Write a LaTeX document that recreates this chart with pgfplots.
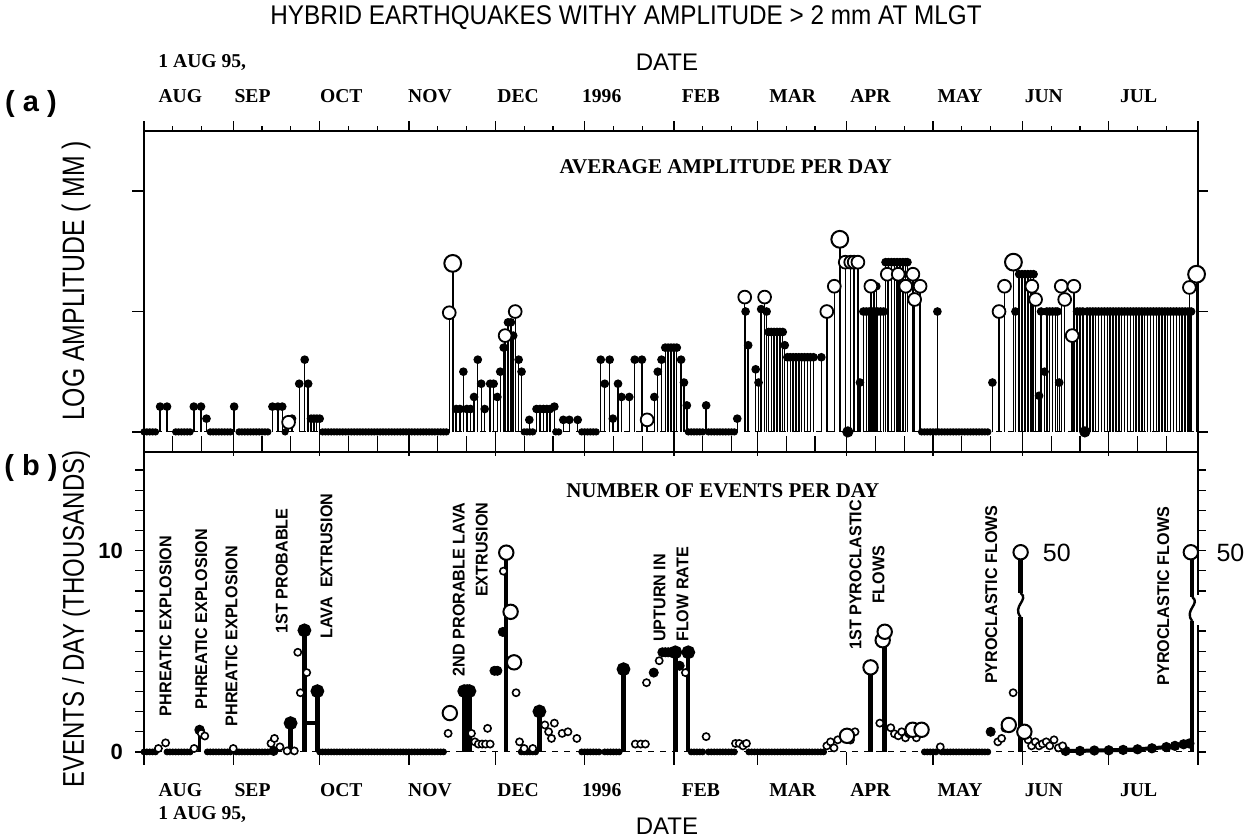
\documentclass[border=0pt]{standalone}
\usepackage{pgfplots}
\pgfplotsset{compat=1.18}
\usepackage{fontspec}
\setmainfont{Liberation Serif}
\newfontfamily\hsans{Liberation Sans}
\newfontfamily\tsans[FakeStretch=0.9]{Liberation Sans}
\newfontfamily\csans[FakeStretch=0.8]{Liberation Sans}
\newfontfamily\asans[FakeStretch=0.95]{Liberation Sans}
\newcommand\ann{\asans\bfseries\fontsize{8.5}{11.5}\selectfont}
\newcommand\mon{\bfseries\fontsize{9.8}{10}\selectfont}

\begin{document}
\begin{tikzpicture}[x=1pt,y=1pt]
\useasboundingbox (0,0) rectangle (625.5,419.5);

% title and outer labels
\node[font=\tsans\fontsize{13.5}{14}\selectfont] at (313,410.5) {HYBRID EARTHQUAKES WITHY AMPLITUDE > 2 mm AT MLGT};
\node[anchor=west, inner sep=0, font=\mon] at (79,388) {1 AUG 95,};
\node[font=\hsans\fontsize{12}{13}\selectfont] at (333.5,388.5) {DATE};
\node[anchor=west, inner sep=0, font=\mon] at (79,12) {1 AUG 95,};
\node[font=\hsans\fontsize{12}{13}\selectfont] at (333.5,6.5) {DATE};
\node[font=\hsans\bfseries\fontsize{14.5}{15}\selectfont] at (15.5,367.5) {( a )};
\node[font=\hsans\bfseries\fontsize{14.5}{15}\selectfont] at (15.5,185.5) {( b )};
\node[rotate=90, font=\csans\fontsize{15.5}{16}\selectfont] at (38,279) {LOG AMPLITUDE ( MM )};
\node[rotate=90, font=\csans\fontsize{15}{16}\selectfont] at (38,110) {EVENTS / DAY (THOUSANDS)};

% ---------------- (a) average amplitude ----------------
\begin{axis}[
  at={(72pt,193.5pt)}, anchor=south west,
  width=527pt, height=160.5pt, scale only axis,
  xmin=0, xmax=366, ymin=-0.167, ymax=2.5,
  hide axis, clip=false,
]
\addplot[black, dashed, line width=0.5pt] coordinates {(0,0)(366,0)};

% zero days
\addplot[only marks, mark=*, mark size=1.6pt, black] coordinates {
(0,0)(1,0)(2,0)(3,0)(4,0)(11,0)(12,0)(13,0)(14,0)(15,0)(16,0)
(23,0)(24,0)(25,0)(26,0)(27,0)(28,0)(29,0)(30,0)
(33,0)(34,0)(35,0)(36,0)(37,0)(38,0)(39,0)(40,0)(41,0)(42,0)(43,0)(49,0)
(62,0)(63,0)(64,0)(65,0)(66,0)(67,0)(68,0)(69,0)(70,0)(71,0)(72,0)(73,0)(74,0)(75,0)
(76,0)(77,0)(78,0)(79,0)(80,0)(81,0)(82,0)(83,0)(84,0)(85,0)(86,0)(87,0)(88,0)(89,0)
(90,0)(91,0)(92,0)(93,0)(94,0)(95,0)(96,0)(97,0)(98,0)(99,0)(100,0)(101,0)(102,0)(103,0)(104,0)(105,0)
(132,0)(133,0)(134,0)(135,0)(143,0)(144,0)
(152,0)(153,0)(154,0)(155,0)(156,0)(157,0)
(189,0)(190,0)(191,0)(192,0)(193,0)(194,0)(196,0)(197,0)(198,0)(199,0)(200,0)(201,0)(202,0)(203,0)(204,0)(205,0)
(270,0)(271,0)(272,0)(273,0)(274,0)(275,0)(276,0)(277,0)(278,0)(279,0)(280,0)(281,0)
(282,0)(283,0)(284,0)(285,0)(286,0)(287,0)(288,0)(289,0)(290,0)(291,0)(292,0)(293,0)
};
\addplot[only marks, mark=*, mark size=2.6pt, black] coordinates {(244.4,0)(326.7,0)};

% filled stems
\addplot[ycomb, black, line width=0.7pt, mark=*, mark size=1.8pt] coordinates {
(5.6,0.21)(8,0.21)(17.3,0.21)(19.8,0.21)(21.7,0.11)(31.3,0.21)(44.6,0.21)(46.5,0.21)(48,0.21)
(51.4,0.11)(53.9,0.4)(55.8,0.6)(57,0.4)(58,0.11)(59,0.11)(60,0.11)(61,0.11)
(108.4,0.19)(109.7,0.19)(110.9,0.5)(112.1,0.19)(113.4,0.19)(114.6,0.29)(115.9,0.6)(117.1,0.4)
(118.3,0.19)(120.2,0.4)(121.4,0.4)(122.7,0.29)(123.7,0.5)(124.9,0.7)(126.4,0.91)(127.4,0.91)
(128.2,0.8)(130.1,0.6)(131.1,0.5)
(133.8,0.1)(136.3,0.19)(137.5,0.19)(138.7,0.19)(139.9,0.19)(141,0.19)(142.5,0.21)
(145.6,0.1)(147.7,0.1)(150.6,0.1)
(158.6,0.6)(160,0.4)(161.7,0.6)(162.8,0.11)(164.6,0.4)(165.8,0.29)(168.5,0.29)(170.4,0.6)
(172.9,0.6)(177.2,0.29)(178.4,0.5)(179.7,0.6)(181,0.7)(182,0.7)(183,0.7)(184,0.7)(185,0.7)
(186.5,0.6)(187.5,0.41)(188.5,0.22)
(195.2,0.22)(206,0.11)(208.9,1.0)(209.8,0.72)(212.4,0.52)(213.4,0.41)(214.3,1.02)(216.2,1.0)
(216.9,0.83)(217.8,0.83)(218.8,0.83)(219.8,0.83)(220.8,0.83)(221.8,0.83)(222.5,0.72)
(223.4,0.62)(224.4,0.62)(225.4,0.62)(226.4,0.62)(227.4,0.62)(228.4,0.62)(229.4,0.62)
(230.4,0.62)(231.4,0.62)(232.5,0.62)(235.2,0.62)
(248.6,0.41)(249.8,1.0)(250.8,1.0)(251.8,1.0)(252.8,1.0)(253.8,1.0)(254.8,1.0)(255.8,1.0)
(256.8,1.0)(253.5,1.21)(254.3,1.21)
(257.5,1.41)(258.5,1.41)(259.5,1.41)(260.5,1.41)(261.5,1.41)(262.5,1.41)(263.5,1.41)
(264.5,1.41)(265.1,1.41)(275.5,1.0)
(294.6,0.41)(302.6,1.0)(303.9,1.31)(304.9,1.31)(305.9,1.31)(306.9,1.31)(307.9,1.31)
(308.9,1.31)(310.8,0.3)(311.5,1.0)(312.7,0.5)(313.5,1.0)(314.5,1.0)(315.5,1.0)(316.5,1.0)
(317.2,1.0)(317.8,0.41)
(324,1.0)(325,1.0)(326,1.0)(327.5,1.0)(328.5,1.0)(329.5,1.0)(330.5,1.0)(331.5,1.0)(332.5,1.0)
(333.5,1.0)(334.5,1.0)(335.5,1.0)(336.5,1.0)(337.5,1.0)(338.5,1.0)(339.5,1.0)(340.5,1.0)
(341.5,1.0)(342.5,1.0)(343.5,1.0)(344.5,1.0)(345.5,1.0)(346.5,1.0)(347.5,1.0)(348.5,1.0)
(349.5,1.0)(350.5,1.0)(351.5,1.0)(352.5,1.0)(353.5,1.0)(354.5,1.0)(355.5,1.0)(356.5,1.0)
(357.5,1.0)(358.5,1.0)(359.5,1.0)(360.5,1.0)(361.5,1.0)(362.5,1.0)(363.6,1.0)
};

% open circles
\addplot[ycomb, black, line width=0.7pt, mark=*, mark size=3.2pt,
  mark options={fill=white, line width=0.9pt}] coordinates {
(50.2,0.08)(106,0.99)(125.4,0.8)(128.9,1.0)(174.7,0.1)(208.6,1.12)(215.5,1.12)
(237.1,1.0)(239.7,1.21)(243.5,1.41)(245.4,1.41)(246.6,1.41)(247.9,1.41)(252.4,1.21)
(258.1,1.31)(261.9,1.31)(264.5,1.21)(267,1.31)(267.6,1.1)(269.5,1.21)
(296.9,1.0)(298.8,1.21)(308.3,1.21)(309.6,1.1)(318.5,1.21)(319.7,1.1)(322.3,0.8)
(322.9,1.21)(363,1.2)
};
\addplot[ycomb, black, line width=0.8pt, mark=*, mark size=4.2pt,
  mark options={fill=white, line width=1pt}] coordinates {
(107.2,1.4)(241.6,1.6)(301.9,1.41)(365.5,1.31)
};

% frame and ticks
\draw[line width=1.1pt] (axis cs:0,-0.167) -- (axis cs:0,2.5) -- (axis cs:366,2.5) -- (axis cs:366,-0.167);
\draw[line width=1pt] (axis cs:0,-0.167) -- (axis cs:366,-0.167);
\pgfplotsinvokeforeach{0,31,61,92,122,153,184,213,244,274,305,335,366}{
  \draw[line width=0.7pt] (axis cs:#1,2.5) -- ++(0pt,5pt);
  \draw[line width=0.7pt] (axis cs:#1,-0.167) ++(0pt,-2pt) -- ++(0pt,12pt);
}
\pgfplotsinvokeforeach{10,20,41,51,71,81,102,112,132,142,163,173,194,204,223,233,254,264,284,294,315,325,345,355}{
  \draw[line width=0.6pt] (axis cs:#1,2.5) -- ++(0pt,2.5pt);
  \draw[line width=0.6pt] (axis cs:#1,-0.167) -- ++(0pt,8pt);
}
\pgfplotsinvokeforeach{0,1,2}{
  \draw[line width=0.7pt] (axis cs:0,#1) -- ++(-6pt,0pt);
  \draw[line width=0.7pt] (axis cs:366,#1) -- ++(5pt,0pt);
}

% month labels (top)
\node[anchor=west, inner sep=0, yshift=17.5pt, font=\mon] at (axis cs:4.9,2.5) {AUG};
\node[anchor=west, inner sep=0, yshift=17.5pt, font=\mon] at (axis cs:31.3,2.5) {SEP};
\node[anchor=west, inner sep=0, yshift=17.5pt, font=\mon] at (axis cs:61,2.5) {OCT};
\node[anchor=west, inner sep=0, yshift=17.5pt, font=\mon] at (axis cs:91.6,2.5) {NOV};
\node[anchor=west, inner sep=0, yshift=17.5pt, font=\mon] at (axis cs:122.6,2.5) {DEC};
\node[anchor=west, inner sep=0, yshift=17.5pt, font=\mon] at (axis cs:152,2.5) {1996};
\node[anchor=west, inner sep=0, yshift=17.5pt, font=\mon] at (axis cs:186.6,2.5) {FEB};
\node[anchor=west, inner sep=0, yshift=17.5pt, font=\mon] at (axis cs:217,2.5) {MAR};
\node[anchor=west, inner sep=0, yshift=17.5pt, font=\mon] at (axis cs:245.1,2.5) {APR};
\node[anchor=west, inner sep=0, yshift=17.5pt, font=\mon] at (axis cs:275.4,2.5) {MAY};
\node[anchor=west, inner sep=0, yshift=17.5pt, font=\mon] at (axis cs:305.7,2.5) {JUN};
\node[anchor=west, inner sep=0, yshift=17.5pt, font=\mon] at (axis cs:338.8,2.5) {JUL};

\node[font=\bfseries\fontsize{10.5}{11}\selectfont] at (axis cs:202,2.2) {AVERAGE AMPLITUDE PER DAY};
\end{axis}

% ---------------- (b) number of events ----------------
\begin{axis}[
  at={(72pt,37pt)}, anchor=south west,
  width=527pt, height=156.5pt, scale only axis,
  xmin=0, xmax=366, ymin=-0.65, ymax=14.9,
  hide axis, clip=false,
]
\addplot[black, dashed, line width=0.5pt] coordinates {(0,0)(366,0)};

% zero days
\addplot[only marks, mark=*, mark size=1.5pt, black] coordinates {
(0,0)(1,0)(2,0)(3,0)(4,0)(8,0)(9,0)(10,0)(11,0)(12,0)(13,0)(14,0)(15,0)(16,0)
(22,0)(23,0)(24,0)(25,0)(26,0)(27,0)(28,0)(29,0)(30,0)
(32,0)(33,0)(34,0)(35,0)(36,0)(37,0)(38,0)(39,0)(40,0)(41,0)(42,0)(43,0)
(61,0)(62,0)(63,0)(64,0)(65,0)(66,0)(67,0)(68,0)(69,0)(70,0)(71,0)(72,0)(73,0)(74,0)(75,0)
(76,0)(77,0)(78,0)(79,0)(80,0)(81,0)(82,0)(83,0)(84,0)(85,0)(86,0)(87,0)(88,0)(89,0)
(90,0)(91,0)(92,0)(93,0)(94,0)(95,0)(96,0)(97,0)(98,0)(99,0)(100,0)(101,0)(102,0)(103,0)(104,0)
(131,0)(132,0)(133,0)(134,0)(135,0)(136,0)
(152,0)(153,0)(154,0)(155,0)(156,0)(157,0)(158,0)(160,0)(161,0)(162,0)(163,0)(164,0)(165,0)
(190,0)(191,0)(192,0)(193,0)(194,0)(196,0)(197,0)(198,0)(199,0)(200,0)(201,0)(202,0)(203,0)
(204,0)(205,0)(210,0)(211,0)(212,0)(213,0)(214,0)(215,0)(216,0)(217,0)(218,0)(219,0)(220,0)
(221,0)(222,0)(223,0)(224,0)(225,0)(226,0)(227,0)(228,0)(229,0)(230,0)(231,0)(232,0)
(233,0)(234,0)(235,0)(236,0)
(271,0)(272,0)(273,0)(274,0)(275,0)(277,0)(278,0)(279,0)(280,0)(281,0)(282,0)(283,0)
(284,0)(285,0)(286,0)(287,0)(288,0)(289,0)(290,0)(291,0)(292,0)(293,0)
};
% slowly rising tail, July 1996
\addplot[black, line width=2pt, mark=*, mark size=1.5pt] coordinates {
(320,0.05)(325,0.05)(330,0.07)(335,0.08)(340,0.1)(345,0.13)(350,0.18)(355,0.24)(358,0.3)(361,0.38)(363,0.42)
};

% thick stems with filled tops
\addplot[ycomb, black, line width=1.2pt, mark=*, mark size=2pt] coordinates {(19.3,1.09)};
\addplot[ycomb, black, line width=2.2pt, mark=*, mark size=2.3pt] coordinates {
(50.9,1.43)(55.7,6.04)(60.2,3.02)(111.2,3.02)(112.2,3.02)(113,3.02)(137.3,2.01)
(166.5,4.11)(184.5,4.95)(189,4.95)
};
% thick stems with open tops
\addplot[ycomb, black, line width=2.2pt] coordinates {
(125.8,9.9)(252.3,4.2)(257.2,5.97)(304.4,9.92)(364,9.92)
};
\addplot[black, line width=2.2pt] coordinates {(55.7,1.43)(60.2,1.43)};

% filled marks without stems
\addplot[only marks, mark=*, mark size=2.3pt, black] coordinates {
(121.7,4.03)(122.7,4.03)(124.6,5.96)(177,3.94)(180,4.95)(181,4.95)(182,4.95)(183,4.95)
(186,4.28)(294,1.0)(45,0.05)
};

% open circles
\addplot[only marks, mark=*, mark size=1.8pt, mark options={fill=white, line width=0.8pt, draw=black}] coordinates {
(5,0.17)(7.5,0.45)(17.4,0.17)(19.9,0.92)(21.1,0.79)(31,0.17)(44.1,0.42)(45.3,0.67)(47.2,0.25)
(49.7,0.05)(52.2,0.05)(53.4,4.95)(54.3,2.94)(56.5,3.94)(105.6,0.92)(113.7,0.92)(114.9,0.5)
(116.1,0.39)(117.4,0.39)(118.6,0.39)(120.2,0.39)(119.3,1.17)(124.8,8.98)(129.2,2.94)
(130.4,0.5)(132,0.17)(135,0.17)(139.2,1.34)(140.5,1.0)(141.5,0.67)(142.5,1.43)(145.2,0.92)
(147.2,1.0)(150.3,0.67)(170.6,0.39)(172.5,0.39)(174.1,0.39)(174.5,3.44)(178.9,4.53)
(188,3.94)(195.2,0.76)(205.4,0.42)(206.7,0.42)(208,0.3)(209.2,0.42)(237.1,0.3)(238.4,0.5)
(239.6,0.2)(240.9,0.6)(245.3,0.59)(246.9,1.0)(255.5,1.43)(259.3,1.2)(260.6,0.9)(261.9,0.8)
(263.1,1.0)(264.4,0.7)(265.6,0.9)(268.2,0.7)(276.5,0.25)(296.5,0.5)(297.8,0.67)(299,1.18)
(301.8,2.94)(307,0.6)(308.2,0.3)(309.5,0.5)(310.8,0.3)(312,0.4)(313.3,0.5)(314.5,0.3)
(316,0.6)(317.5,0.2)(319,0.3)
};
\addplot[only marks, mark=*, mark size=3.6pt, mark options={fill=white, line width=1pt, draw=black}] coordinates {
(106.2,1.93)(125.8,9.9)(127.3,6.96)(128.5,4.45)(244.1,0.8)(252.3,4.2)(256.5,5.55)(257.2,5.97)
(266.9,1.1)(270,1.1)(300.3,1.34)(304.4,9.92)(305.7,1.0)(363.5,9.92)
};

% breaks on the two tallest stems
\draw[white, line width=4pt] (axis cs:304.4,6.7) -- (axis cs:304.4,7.9);
\draw[black, line width=1.2pt] (axis cs:304.4,7.9) .. controls (axis cs:307.5,7.55) and (axis cs:301.3,7.25) .. (axis cs:304.4,6.7);
\draw[white, line width=4pt] (axis cs:364,6.5) -- (axis cs:364,7.7);
\draw[black, line width=1.2pt] (axis cs:364,7.7) .. controls (axis cs:367.1,7.35) and (axis cs:360.9,7.05) .. (axis cs:364,6.5);

% frame and ticks
\draw[line width=1.1pt] (axis cs:0,-0.65) -- (axis cs:0,14.9);
\draw[line width=1.1pt] (axis cs:366,14.9) -- (axis cs:366,7.8);
\draw[line width=1.1pt] (axis cs:366,6.3) -- (axis cs:366,-0.65);
\pgfplotsinvokeforeach{0,1,2,3,4,5,6,7,8,9,10,11,12,13,14}{
  \draw[line width=0.7pt] (axis cs:0,#1) -- ++(-4.5pt,0pt);
}
\pgfplotsinvokeforeach{0,1,2,3,4,5,6,8,9,10,11,12,13,14}{
  \draw[line width=0.7pt] (axis cs:366,#1) -- ++(4pt,0pt);
}
\pgfplotsinvokeforeach{0,31,61,92,122,153,184,213,244,274,305,335,366}{
  \draw[line width=0.7pt] (axis cs:#1,0) -- (axis cs:#1,-0.65);
}
\node[anchor=east, xshift=-7pt, font=\hsans\bfseries\fontsize{11}{12}\selectfont] at (axis cs:0,10) {10};
\node[anchor=east, xshift=-7pt, font=\hsans\bfseries\fontsize{11}{12}\selectfont] at (axis cs:0,0) {0};

% month labels (bottom)
\node[anchor=west, inner sep=0, yshift=-19pt, font=\mon] at (axis cs:4.9,0) {AUG};
\node[anchor=west, inner sep=0, yshift=-19pt, font=\mon] at (axis cs:31.3,0) {SEP};
\node[anchor=west, inner sep=0, yshift=-19pt, font=\mon] at (axis cs:61,0) {OCT};
\node[anchor=west, inner sep=0, yshift=-19pt, font=\mon] at (axis cs:91.6,0) {NOV};
\node[anchor=west, inner sep=0, yshift=-19pt, font=\mon] at (axis cs:122.6,0) {DEC};
\node[anchor=west, inner sep=0, yshift=-19pt, font=\mon] at (axis cs:152,0) {1996};
\node[anchor=west, inner sep=0, yshift=-19pt, font=\mon] at (axis cs:186.6,0) {FEB};
\node[anchor=west, inner sep=0, yshift=-19pt, font=\mon] at (axis cs:217,0) {MAR};
\node[anchor=west, inner sep=0, yshift=-19pt, font=\mon] at (axis cs:245.1,0) {APR};
\node[anchor=west, inner sep=0, yshift=-19pt, font=\mon] at (axis cs:275.4,0) {MAY};
\node[anchor=west, inner sep=0, yshift=-19pt, font=\mon] at (axis cs:305.7,0) {JUN};
\node[anchor=west, inner sep=0, yshift=-19pt, font=\mon] at (axis cs:338.8,0) {JUL};

\node[font=\bfseries\fontsize{10.5}{11}\selectfont] at (axis cs:201,13.0) {NUMBER OF EVENTS PER DAY};

% event annotations
\node[rotate=90, anchor=west, inner sep=0, font=\ann] at (axis cs:7.5,1.76) {PHREATIC EXPLOSION};
\node[rotate=90, anchor=west, inner sep=0, font=\ann] at (axis cs:19.9,2.1) {PHREATIC EXPLOSION};
\node[rotate=90, anchor=west, inner sep=0, font=\ann] at (axis cs:30.4,1.26) {PHREATIC EXPLOSION};
\node[rotate=90, anchor=west, inner sep=0, font=\ann] at (axis cs:47.8,5.87) {1ST PROBABLE};
\node[rotate=90, anchor=west, inner sep=0, font=\ann] at (axis cs:63.4,5.62) {LAVA\ \ EXTRUSION};
\node[rotate=90, anchor=east, inner sep=0, align=right, font=\ann] at (axis cs:113.3,12.4) {2ND PRORABLE LAVA\\EXTRUSION};
\node[rotate=90, anchor=west, inner sep=0, align=left, font=\ann] at (axis cs:183,5.45) {UPTURN IN\\FLOW RATE};
\node[rotate=90, inner sep=0, align=center, font=\ann] at (axis cs:251.1,8.8) {1ST PYROCLASTIC\\FLOWS};
\node[rotate=90, anchor=west, inner sep=0, font=\ann] at (axis cs:294.2,3.36) {PYROCLASTIC FLOWS};
\node[rotate=90, anchor=west, inner sep=0, font=\ann] at (axis cs:353.9,3.28) {PYROCLASTIC FLOWS};
\node[anchor=west, inner sep=0, font=\hsans\fontsize{12.5}{13}\selectfont] at (axis cs:312,9.9) {50};
\node[anchor=west, inner sep=0, font=\hsans\fontsize{12.5}{13}\selectfont] at (axis cs:372.3,9.9) {50};
\end{axis}
\end{tikzpicture}
\end{document}
